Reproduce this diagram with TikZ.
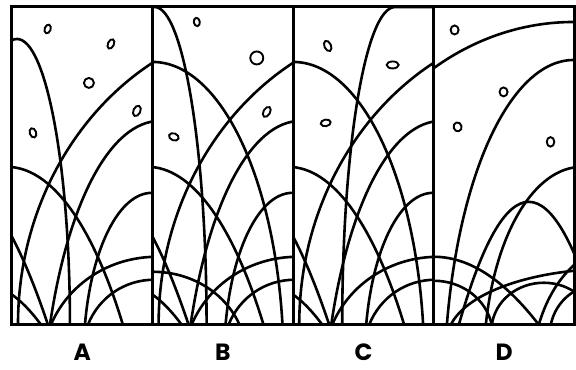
\documentclass[tikz,border=0pt]{standalone}
\usepackage{fontspec}
\setmainfont{Poppins}
\usetikzlibrary{positioning}
\tikzset{
  stem/.style={line width=2.6pt},
  frame/.style={line width=3pt},
  spot/.style={line width=1.9pt},
  tag/.style={font=\fontsize{23.5}{24}\selectfont\bfseries}
}
% arch standing on the ground: centre, height, half width, shape (0 ellipse .. 1 parabola)
\newcommand{\arch}[4]{%
  \pgfmathsetmacro{\af}{0.333*#4*#3}%
  \pgfmathsetmacro{\ak}{(0.552+0.115*#4)*#2}%
  \pgfmathsetmacro{\am}{(0.552-0.219*#4)*#3}%
  \draw[stem] ({#1-#3},0) .. controls ({#1-#3+\af},\ak) and ({#1-\am},#2) .. (#1,#2)
    .. controls ({#1+\am},#2) and ({#1+#3-\af},\ak) .. ({#1+#3},0);
}
% stems that panels A, B and C have in common
\newcommand{\sharedstems}{%
  \arch{276}{303}{270}{0}
  \arch{148}{204}{110}{0.5}
  \arch{-5}{158}{116}{0.8}
  \arch{140}{132}{67}{0.3}
  \arch{145}{68}{106}{0.5}
  \arch{142}{45}{66}{0.5}
  \arch{-64}{149}{100}{1}
  \arch{-31}{41}{60}{1}
}

\begin{document}
\begin{tikzpicture}[x=1pt,y=1pt]
  \fill[white] (0,0) rectangle (576,370);
  % panel A
  \begin{scope}[shift={(12,45)}]
    \clip (0,0) rectangle (140.75,318);
    \sharedstems
    \arch{5}{286}{53}{0}
  \end{scope}
  % panel B
  \begin{scope}[shift={(152.75,45)}]
    \clip (0,0) rectangle (140.75,318);
    \sharedstems
    \arch{2}{318}{52}{0}
    \arch{0}{263}{130}{0.2}
    \arch{0}{53}{87}{0.5}
  \end{scope}
  % panel C
  \begin{scope}[shift={(293.5,45)}]
    \clip (0,0) rectangle (140.75,318);
    \sharedstems
    \draw[stem] (49,0) .. controls (49,175) and (72,318) .. (102,318) -- (141,318);
    \arch{0}{263}{130}{0.2}
  \end{scope}
  % panel D
  \begin{scope}[shift={(434.25,45)}]
    \clip (0,0) rectangle (140.75,318);
    \arch{140}{303}{264}{0}
    \arch{140}{265}{127}{0.3}
    \arch{148}{158}{96}{0.3}
    \arch{95}{123}{70}{1}
    \arch{0}{68}{105}{1}
    \arch{0}{44}{58}{0.3}
    \arch{180}{56}{163}{0.3}
    \arch{110}{42}{52}{0.2}
    \arch{190}{80}{85}{0.5}
    \arch{165}{40}{48}{0.3}
  \end{scope}
  % spots
  \draw[spot] (47.7,341) ellipse [x radius=3, y radius=4.5, rotate=-20];
  \draw[spot] (111,326) ellipse [x radius=3, y radius=5, rotate=-25];
  \draw[spot] (89,287) circle [radius=5];
  \draw[spot] (137,259) ellipse [x radius=3.5, y radius=5.5, rotate=-25];
  \draw[spot] (33,237) ellipse [x radius=3.2, y radius=4.8, rotate=20];
  \draw[spot] (197,348) ellipse [x radius=3, y radius=4.2, rotate=10];
  \draw[spot] (257,312) circle [radius=6.5];
  \draw[spot] (267,258) ellipse [x radius=3.3, y radius=5.5, rotate=-30];
  \draw[spot] (174,233) ellipse [x radius=5, y radius=3.5, rotate=-20];
  \draw[spot] (328,324) ellipse [x radius=3.3, y radius=5.5, rotate=25];
  \draw[spot] (393,305) ellipse [x radius=6, y radius=3.5];
  \draw[spot] (326,247) ellipse [x radius=5, y radius=3.3, rotate=10];
  \draw[spot] (455,340) ellipse [x radius=4, y radius=4.5];
  \draw[spot] (504,278) ellipse [x radius=4, y radius=4.5];
  \draw[spot] (458,243) ellipse [x radius=4, y radius=4.5, rotate=15];
  \draw[spot] (551,228) ellipse [x radius=3.8, y radius=4.8];
  % frames
  \draw[frame] (12,45) rectangle (575,363);
  \foreach \px in {152.75,293.5,434.25} {
    \draw[frame] (\px,45) -- (\px,363);
  }
  % labels
  \foreach \t [count=\i from 0] in {A,B,C,D} {
    \node[tag] (lab\t) at (82.4+\i*140.75,17) {\t};
  }
\end{tikzpicture}
\end{document}
